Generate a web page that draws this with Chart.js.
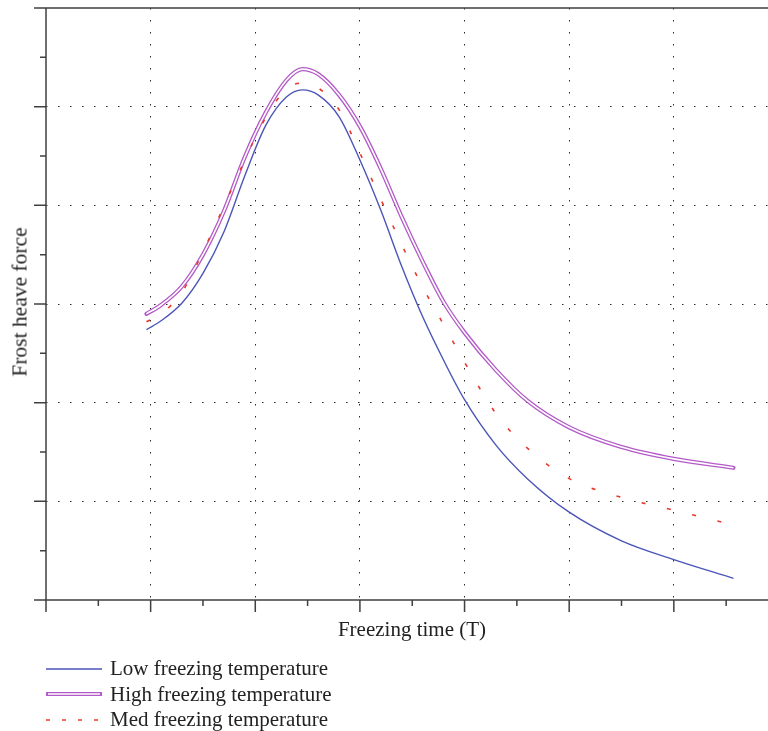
<!DOCTYPE html>
<html>
<head>
<meta charset="utf-8">
<script src="https://cdn.jsdelivr.net/npm/chart.js@4/dist/chart.umd.min.js"></script>
<style>
  html, body { margin: 0; padding: 0; background: #fff; }
  #wrap { position: relative; width: 768px; height: 731px; overflow: hidden; font-family: "Liberation Serif", "DejaVu Serif", serif; color: #222; }
  #grafico { position: absolute; left: 0; top: 0; }
  .titulo-x { position: absolute; left: 0; width: 824px; top: 617px; text-align: center; font-size: 21px; }
  .titulo-y { position: absolute; left: 20px; top: 302px; font-size: 21.5px; white-space: nowrap; transform: translate(-50%, -50%) rotate(-90deg); }
  .leyenda { position: absolute; left: 46px; top: 656px; font-size: 21px; }
  .leyenda div { height: 25.5px; line-height: 25.5px; display: flex; align-items: center; }
  .leyenda svg { width: 56px; height: 10px; margin-right: 8px; }
</style>
</head>
<body>
<div id="wrap">
  <canvas id="grafico" width="768" height="731"></canvas>
  <div class="titulo-x">Freezing time (T)</div>
  <div class="titulo-y">Frost heave force</div>
  <div class="leyenda">
    <div><svg><line x1="0" y1="5" x2="56" y2="5" stroke="#4b55b9" stroke-width="1.5"/></svg>Low freezing temperature</div>
    <div><svg><line x1="1" y1="5" x2="55" y2="5" stroke="#b35ac8" stroke-width="4" stroke-linecap="round"/><line x1="2" y1="5" x2="54" y2="5" stroke="#fff" stroke-width="1.6"/></svg>High freezing temperature</div>
    <div><svg><line x1="0" y1="5" x2="56" y2="5" stroke="#e8382a" stroke-width="1.5" stroke-dasharray="4 12"/></svg>Med freezing temperature</div>
  </div>
</div>

<script>
(function(){

  // tiempo de congelamiento (unidades del eje x)
  const tiempo = [0.96, 1.1, 1.3, 1.5, 1.7, 1.9, 2.1, 2.3, 2.45, 2.6, 2.8, 3.0, 3.2, 3.4, 3.6, 3.8, 4.0, 4.3, 4.6, 5.0, 5.5, 6.0, 6.57];

  // fuerza de levantamiento por helada
  const fuerzaBaja  = [2.74, 2.83, 3.01, 3.31, 3.73, 4.30, 4.81, 5.10, 5.17, 5.12, 4.90, 4.46, 3.95, 3.38, 2.87, 2.43, 2.03, 1.57, 1.23, 0.89, 0.60, 0.41, 0.22];
  const fuerzaAlta  = [2.90, 2.99, 3.18, 3.50, 3.94, 4.49, 4.94, 5.27, 5.38, 5.33, 5.12, 4.80, 4.37, 3.88, 3.43, 3.02, 2.71, 2.33, 2.02, 1.75, 1.55, 1.43, 1.34];
  const fuerzaMedia = [2.82, 2.90, 3.12, 3.53, 3.99, 4.46, 4.89, 5.18, 5.24, 5.19, 4.97, 4.53, 4.06, 3.60, 3.17, 2.79, 2.41, 1.89, 1.54, 1.23, 1.04, 0.91, 0.76];

  const ticksX = [0, 1, 2, 3, 4, 5, 6];
  const ticksY = [0, 1, 2, 3, 4, 5, 6];

  const puntos = serie => serie.map((v, i) => ({ x: tiempo[i], y: v }));

  const colorEje = '#404040';
  const punteado = [1.5, 10.5];

  // ejes con marcas mayores y menores, dibujados con las escalas del grafico
  const ejes = {
    id: 'ejes',
    afterDraw(chart) {
      const { ctx, chartArea: a, scales: { x, y } } = chart;
      ctx.save();
      ctx.strokeStyle = colorEje;
      ctx.lineWidth = 1.5;
      ctx.beginPath();
      // eje y, baja un poco por debajo del eje x
      ctx.moveTo(a.left, a.top);
      ctx.lineTo(a.left, a.bottom + 12);
      // eje x y borde superior
      ctx.moveTo(a.left - 12, a.bottom);
      ctx.lineTo(a.right, a.bottom);
      ctx.moveTo(a.left - 12, a.top);
      ctx.lineTo(a.right, a.top);
      ticksX.forEach(v => {
        const px = x.getPixelForValue(v);
        ctx.moveTo(px, a.bottom); ctx.lineTo(px, a.bottom + 12);
        const pm = x.getPixelForValue(v + 0.5);
        ctx.moveTo(pm, a.bottom); ctx.lineTo(pm, a.bottom + 6);
      });
      ticksY.forEach(v => {
        const py = y.getPixelForValue(v);
        ctx.moveTo(a.left - 12, py); ctx.lineTo(a.left, py);
        if (v < 6) {
          const pm = y.getPixelForValue(v + 0.5);
          ctx.moveTo(a.left - 6, pm); ctx.lineTo(a.left, pm);
        }
      });
      ctx.stroke();
      ctx.restore();
    }
  };

  const gridInterior = (max) => ctx => {
    const v = ctx.tick.value;
    return (v > 0 && v < max && Number.isInteger(v)) ? '#2a2a2a' : 'rgba(0,0,0,0)';
  };

  new Chart(document.getElementById('grafico'), {
    type: 'line',
    data: {
      datasets: [
        {
          label: 'Low freezing temperature',
          data: puntos(fuerzaBaja),
          borderColor: '#4b55b9',
          borderWidth: 1.4,
          order: 2
        },
        {
          label: 'High freezing temperature',
          data: puntos(fuerzaAlta),
          borderColor: '#b35ac8',
          borderWidth: 4.2,
          borderCapStyle: 'round',
          order: 4
        },
        {
          label: 'High freezing temperature (interior)',
          data: puntos(fuerzaAlta),
          borderColor: '#ffffff',
          borderWidth: 1.6,
          order: 3
        },
        {
          label: 'Med freezing temperature',
          data: puntos(fuerzaMedia),
          borderColor: '#e8382a',
          borderWidth: 1.6,
          borderDash: [4, 22],
          order: 1
        }
      ]
    },
    options: {
      responsive: false,
      animation: false,
      devicePixelRatio: 1,
      layout: { padding: { left: 46, top: 8, right: 0, bottom: 131 } },
      elements: {
        point: { radius: 0 },
        line: { cubicInterpolationMode: 'monotone', fill: false }
      },
      scales: {
        x: {
          type: 'linear',
          min: 0,
          max: 6.9,
          ticks: { display: false, stepSize: 1 },
          border: { display: false, dash: punteado },
          grid: { drawTicks: false, color: gridInterior(6.9), lineWidth: 1 },
          afterFit(scale) { scale.height = 0; }
        },
        y: {
          min: 0,
          max: 6,
          ticks: { display: false, stepSize: 1 },
          border: { display: false, dash: punteado },
          grid: { drawTicks: false, color: gridInterior(6), lineWidth: 1 },
          afterFit(scale) { scale.width = 0; }
        }
      },
      plugins: {
        legend: { display: false },
        tooltip: { enabled: false }
      }
    },
    plugins: [ejes]
  });

})();
</script>
</body>
</html>
